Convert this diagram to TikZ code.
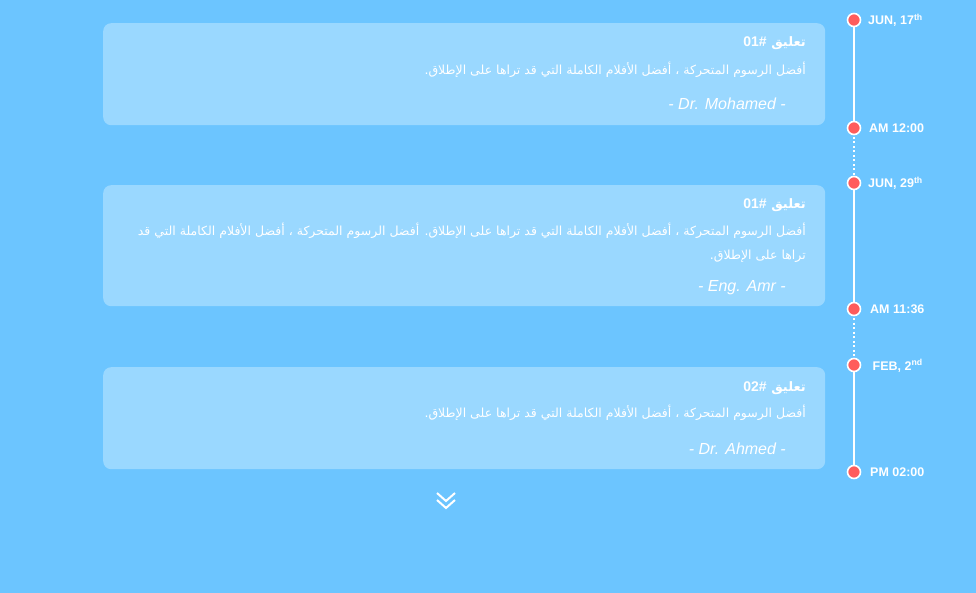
\documentclass[tikz,border=0pt]{standalone}
\usepackage{fontspec}
\setmainfont{Liberation Sans}
\newfontfamily\arabicfont[Script=Arabic]{DejaVu Sans}
\TeXXeTstate=1
\definecolor{bg}{HTML}{6CC5FF}
\definecolor{card}{HTML}{9AD8FF}
\definecolor{dot}{HTML}{FF5C5C}
\newcommand{\numtag}[1]{{\rmfamily\bfseries\fontsize{14}{16}\selectfont\beginL #1\#\endL}}
\begin{document}
\begin{tikzpicture}[x=1pt,y=-1pt,
  cardbox/.style={fill=card, rounded corners=8pt, draw=none, anchor=north west, inner sep=0pt, minimum width=722pt},
  tdot/.style={circle, fill=dot, draw=white, line width=1.6pt, minimum size=13pt, inner sep=0pt},
  tlabel/.style={anchor=base west, text=white, font=\bfseries\fontsize{12.5}{14}\selectfont, inner sep=0pt},
  ttl/.style={anchor=base east, text=white, font=\arabicfont\bfseries\fontsize{13}{15}\selectfont, inner sep=0pt},
  body/.style={anchor=base east, text=white, font=\arabicfont\fontsize{12.5}{14}\selectfont, inner sep=0pt},
  author/.style={anchor=base east, text=white, font=\itshape\fontsize{16}{18}\selectfont, inner sep=0pt},
  solidline/.style={white, line width=2pt},
  dotline/.style={white, line width=2pt, dash pattern=on 2pt off 2.5pt},
  chev/.style={white, line width=2pt}]
\useasboundingbox (0,0) rectangle (976,593);
\fill[bg] (0,0) rectangle (976,593);
% cards
\node[cardbox, minimum height=102pt] (c1) at (103,23) {};
\node[cardbox, minimum height=121pt] (c2) at (103,185) {};
\node[cardbox, minimum height=102pt] (c3) at (103,367) {};
% card 1
\node[ttl] (t1) at (806,47) {\beginR تعليق \numtag{01}\endR};
\node[body] (b1) at (806,75) {\beginR أفضل الرسوم المتحركة ، أفضل الأفلام الكاملة التي قد تراها على الإطلاق.\endR};
\node[author] (a1) at (786,110) {- Dr. Mohamed -};
% card 2
\node[ttl] (t2) at (806,209) {\beginR تعليق \numtag{01}\endR};
\node[body] (b2) at (806,236) {\beginR أفضل الرسوم المتحركة ، أفضل الأفلام الكاملة التي قد تراها على الإطلاق. أفضل الرسوم المتحركة ، أفضل الأفلام الكاملة التي قد\endR};
\node[body] (b2b) at (806,260) {\beginR تراها على الإطلاق.\endR};
\node[author] (a2) at (786,291) {- Eng. Amr -};
% card 3
\node[ttl] (t3) at (806,391) {\beginR تعليق \numtag{02}\endR};
\node[body] (b3) at (806,417) {\beginR أفضل الرسوم المتحركة ، أفضل الأفلام الكاملة التي قد تراها على الإطلاق.\endR};
\node[author] (a3) at (786,454) {- Dr. Ahmed -};
% timeline
\coordinate (p1) at (854,20);
\coordinate (p2) at (854,128);
\coordinate (p3) at (854,183);
\coordinate (p4) at (854,309);
\coordinate (p5) at (854,365);
\coordinate (p6) at (854,472);
\draw[solidline] (p1) -- (p2);
\draw[dotline] (p2) -- (p3);
\draw[solidline] (p3) -- (p4);
\draw[dotline] (p4) -- (p5);
\draw[solidline] (p5) -- (p6);
\foreach \i in {1,...,6} { \node[tdot] (d\i) at (p\i) {}; }
\node[tlabel] (l1) at (868,25) {JUN, 17\textsuperscript{th}};
\node[tlabel] (l2) at (869,132.5) {AM 12:00};
\node[tlabel] (l3) at (868,188) {JUN, 29\textsuperscript{th}};
\node[tlabel] (l4) at (870,313.5) {AM 11:36};
\node[tlabel] (l5) at (872.5,370) {FEB, 2\textsuperscript{nd}};
\node[tlabel] (l6) at (870,476.5) {PM 02:00};
% chevrons
\draw[chev] (437,493) -- (446,501) -- (455,493);
\draw[chev] (437,500) -- (446,508) -- (455,500);
\end{tikzpicture}
\end{document}
